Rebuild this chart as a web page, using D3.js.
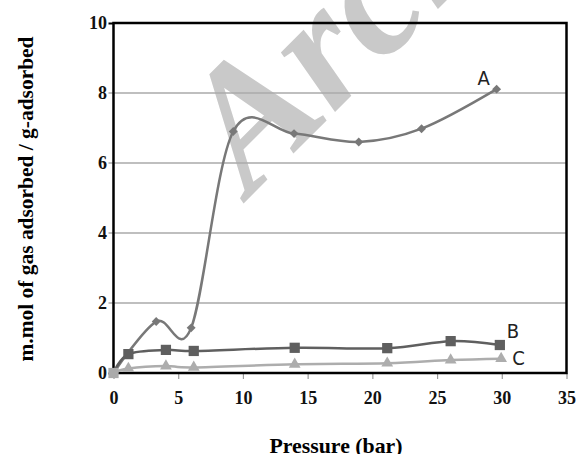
<!DOCTYPE html>
<html>
<head>
<meta charset="utf-8">
<script src="https://cdn.jsdelivr.net/npm/d3@7"></script>
<style>
  body { margin: 0; background: #fff; }
  svg { display: block; }
</style>
</head>
<body>
<div id="chart"></div>
<script>
/*
  Adsorption isotherms A, B, C
*/

var xTicks = [0, 5, 10, 15, 20, 25, 30, 35];
var yTicks = [0, 2, 4, 6, 8, 10];

var seriesA = [[0, 0], [3.3, 1.47], [6.0, 1.29], [9.25, 6.9], [13.95, 6.84], [18.95, 6.6], [23.8, 6.98], [29.6, 8.11]];
var seriesB = [[0, 0], [1.15, 0.54], [4.05, 0.66], [6.2, 0.63], [14.0, 0.72], [21.15, 0.71], [26.05, 0.91], [29.85, 0.8]];
var seriesC = [[0, 0], [1.15, 0.13], [4.05, 0.2], [6.2, 0.16], [14.0, 0.25], [21.15, 0.28], [26.05, 0.37], [29.95, 0.41]];
var seriesNames = ["A", "B", "C"];

var W = 577, H = 454;
var margin = {top: 23, left: 113.5};
var width = 566.5 - margin.left,
    height = 373 - margin.top;

var svg = d3.select("#chart").append("svg")
  .attr("width", W)
  .attr("height", H);

var x = d3.scaleLinear().domain([0, 35]).range([0, width]);
var y = d3.scaleLinear().domain([0, 10]).range([height, 0]);

//Watermark
svg.append("text")
  .attr("transform", "translate(250,197) rotate(-45)")
  .style("font-family", "'Liberation Serif', serif")
  .style("font-style", "italic")
  .style("font-weight", "bold")
  .style("font-size", "175px")
  .style("fill", "#c9c9c9")
  .text("Archive");

var g = svg.append("g")
  .attr("transform", "translate(" + margin.left + "," + margin.top + ")");

//Grid lines
g.selectAll(".grid")
  .data(yTicks.filter(function(d){ return d > 0 && d < 10; }))
  .enter().append("line")
  .attr("x1", -5)
  .attr("x2", width)
  .attr("y1", function(d){ return y(d); })
  .attr("y2", function(d){ return y(d); })
  .style("stroke", "#aaa")
  .style("stroke-width", 1.5);

//Axes
var xAxis = g.append("g")
  .attr("transform", "translate(0," + height + ")")
  .call(d3.axisBottom(x).tickValues(xTicks).tickSize(6).tickPadding(12));

var yAxis = g.append("g")
  .call(d3.axisLeft(y).tickValues(yTicks).tickSize(5).tickPadding(1.5));

[xAxis, yAxis].forEach(function(a){
  a.attr("font-family", "'Liberation Serif', serif").attr("font-size", 18);
  a.select(".domain").remove();
  a.selectAll("line").style("stroke", "#999").style("stroke-width", 1.2);
  a.selectAll("text")
    .style("font-family", "'Liberation Serif', serif")
    .style("font-weight", "bold")
    .style("font-size", "18px")
    .style("fill", "#111");
});
yAxis.selectAll(".tick line").style("stroke", "#000").style("stroke-width", 2)
  .filter(function(d){ return d > 0 && d < 10; }).remove();

//Frame
g.append("rect")
  .attr("x", 0)
  .attr("y", 0)
  .attr("width", width)
  .attr("height", height)
  .style("fill", "none")
  .style("stroke", "#000")
  .style("stroke-width", 2.5);

//Lines
var line = d3.line()
  .x(function(d){ return x(d[0]); })
  .y(function(d){ return y(d[1]); })
  .curve(d3.curveCatmullRom.alpha(0));

var styles = [
  {data: seriesA, color: "#787878", shape: d3.symbolSquare, size: 40, rot: 45, dx: -19, dy: -4},
  {data: seriesB, color: "#5f5f5f", shape: d3.symbolSquare, size: 105, rot: 0, dx: 7, dy: -7},
  {data: seriesC, color: "#adadad", shape: d3.symbolTriangle, size: 60, rot: 0, dx: 11, dy: 6}
];

styles.forEach(function(s){
  g.append("path")
    .datum(s.data)
    .attr("d", line)
    .style("fill", "none")
    .style("stroke", s.color)
    .style("stroke-width", 2.5);
});

styles.forEach(function(s, k){
  g.selectAll(".dot" + k)
    .data(s.data.filter(function(d, i){ return i > 0 || k == 1; }))
    .enter().append("path")
    .attr("d", d3.symbol().type(s.shape).size(s.size))
    .attr("transform", function(d){ return "translate(" + x(d[0]) + "," + y(d[1]) + ") rotate(" + s.rot + ")"; })
    .style("fill", function(d){ return d[0] == 0 ? "#aaa" : s.color; });
});

//Series labels, next to the last point of each series
g.selectAll(".lbl")
  .data(seriesNames)
  .enter().append("text")
  .attr("x", function(d, i){ var s = styles[i], p = s.data[s.data.length - 1]; return x(p[0]) + s.dx; })
  .attr("y", function(d, i){ var s = styles[i], p = s.data[s.data.length - 1]; return y(p[1]) + s.dy; })
  .style("font-family", "'DejaVu Sans Condensed', 'DejaVu Sans', sans-serif")
  .style("font-stretch", "condensed")
  .style("font-size", "20px")
  .style("fill", "#222")
  .text(function(d){ return d; });

//Label for Y axis
svg.append("text")
  .attr("transform", "rotate(-90)")
  .attr("x", -199)
  .attr("y", 33)
  .attr("textLength", 325)
  .attr("lengthAdjust", "spacingAndGlyphs")
  .style("text-anchor", "middle")
  .style("font-family", "'Liberation Serif', serif")
  .style("font-weight", "bold")
  .style("font-size", "21px")
  .text("m.mol of gas adsorbed / g-adsorbed");

//Label for X axis
svg.append("text")
  .attr("x", 336)
  .attr("y", 453)
  .attr("textLength", 133)
  .attr("lengthAdjust", "spacingAndGlyphs")
  .style("text-anchor", "middle")
  .style("font-family", "'Liberation Serif', serif")
  .style("font-weight", "bold")
  .style("font-size", "21px")
  .text("Pressure (bar)");
</script>
</body>
</html>
